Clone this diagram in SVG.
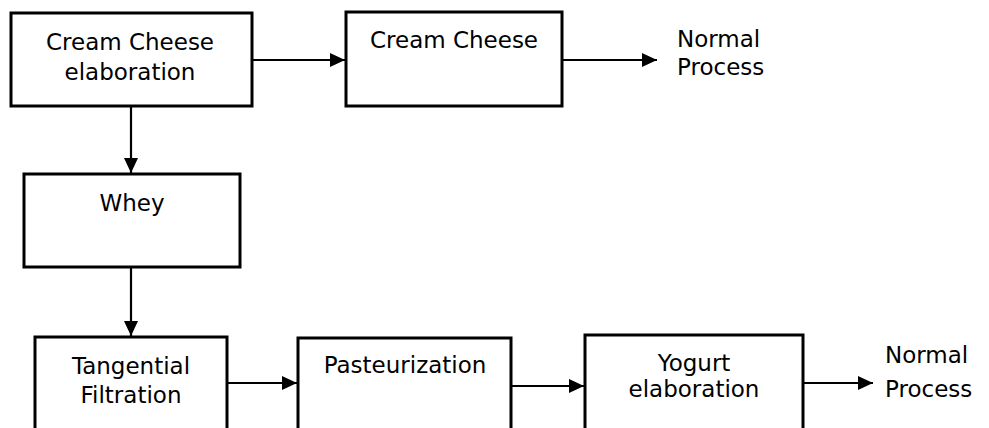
<svg xmlns="http://www.w3.org/2000/svg" width="989" height="428" viewBox="0 0 989 428">
  <style>
    .box { fill: #ffffff; stroke: #000000; stroke-width: 3; }
    .lbl { font-family: "DejaVu Sans", "Noto Sans", sans-serif; font-size: 23px; fill: #000000; text-anchor: middle; }
    .side { font-family: "DejaVu Sans", "Noto Sans", sans-serif; font-size: 23px; fill: #000000; }
    .edge { fill: none; stroke: #000000; stroke-width: 2.2; marker-end: url(#head); }
  </style>
  <defs>
    <marker id="head" viewBox="0 0 15 14" refX="15" refY="7" markerWidth="15" markerHeight="14" markerUnits="userSpaceOnUse" orient="auto">
      <path d="M0,0 L15,7 L0,14 Z" fill="#000000"/>
    </marker>
  </defs>
  <rect width="989" height="428" fill="#ffffff"/>

  <g id="connectors">
    <line class="edge" x1="253" y1="60" x2="345" y2="60"/>
    <line class="edge" x1="563" y1="60" x2="657" y2="60"/>
    <line class="edge" x1="131" y1="107" x2="131" y2="173"/>
    <line class="edge" x1="131" y1="268" x2="131" y2="336"/>
    <line class="edge" x1="228" y1="383" x2="297" y2="383"/>
    <line class="edge" x1="512" y1="386" x2="584" y2="386"/>
    <line class="edge" x1="804" y1="383" x2="873" y2="383"/>
  </g>

  <g id="cream-cheese-elaboration">
    <rect class="box" x="11" y="13" width="241" height="93"/>
    <text class="lbl" x="130" y="50">Cream Cheese</text>
    <text class="lbl" x="130" y="80">elaboration</text>
  </g>

  <g id="cream-cheese">
    <rect class="box" x="346" y="12" width="216" height="94"/>
    <text class="lbl" x="454" y="48">Cream Cheese</text>
  </g>

  <g id="normal-process-top">
    <text class="side" x="677" y="47">Normal</text>
    <text class="side" x="677" y="75">Process</text>
  </g>

  <g id="whey">
    <rect class="box" x="24" y="174" width="216" height="93"/>
    <text class="lbl" x="132" y="211">Whey</text>
  </g>

  <g id="tangential-filtration">
    <rect class="box" x="35" y="337" width="192" height="110"/>
    <text class="lbl" x="131" y="374">Tangential</text>
    <text class="lbl" x="131" y="403">Filtration</text>
  </g>

  <g id="pasteurization">
    <rect class="box" x="298" y="338" width="213" height="110"/>
    <text class="lbl" x="405" y="373">Pasteurization</text>
  </g>

  <g id="yogurt-elaboration">
    <rect class="box" x="585" y="335" width="218" height="110"/>
    <text class="lbl" x="694" y="371">Yogurt</text>
    <text class="lbl" x="694" y="397">elaboration</text>
  </g>

  <g id="normal-process-bottom">
    <text class="side" x="885" y="363">Normal</text>
    <text class="side" x="885" y="397">Process</text>
  </g>
</svg>
